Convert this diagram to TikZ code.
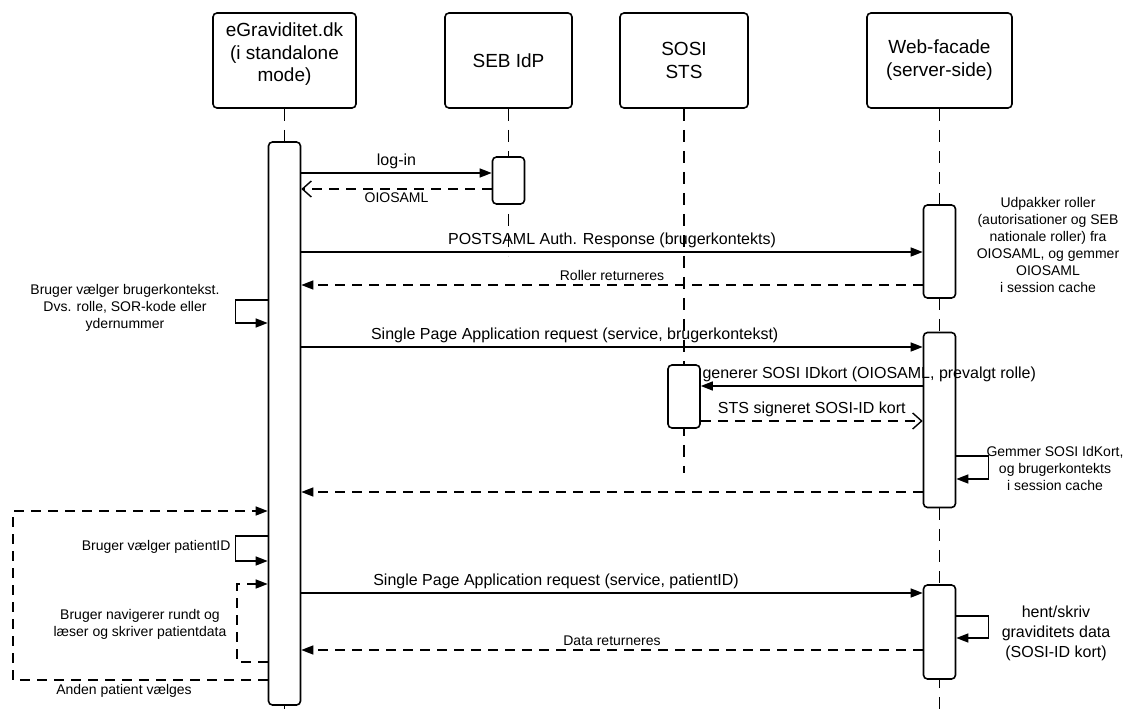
\documentclass[tikz,border=0pt]{standalone}
\usepackage{fontspec}
\setmainfont{Liberation Sans}
\usetikzlibrary{arrows.meta, positioning, calc}
\tikzstyle{actor} = [draw, line width=1.6pt, rounded corners=4pt, minimum height=95pt, align=center, font=\fontsize{19}{23}\selectfont]
\tikzstyle{head} = [align=center, font=\fontsize{19}{22.5}\selectfont]
\tikzstyle{bar} = [draw, line width=1.6pt, rounded corners=4pt, fill=white, minimum width=32pt, inner sep=0pt]
\tikzstyle{life} = [draw, line width=1.4pt, dash pattern=on 12pt off 9pt]
\tikzstyle{line} = [draw, line width=1.4pt, -{Triangle[length=12pt,width=9pt]}]
\tikzstyle{back} = [line, dash pattern=on 10pt off 7pt]
\tikzstyle{reply} = [draw, line width=1.4pt, dash pattern=on 10pt off 7pt, -{Straight Barb[length=9pt,width=16pt]}]
\tikzstyle{txt} = [font=\fontsize{16}{20}\selectfont, align=center]
\tikzstyle{small} = [font=\fontsize{14}{17}\selectfont, align=center]

\begin{document}
\begin{tikzpicture}[x=1pt, y=-1pt]
\useasboundingbox (0,0) rectangle (1129,711);

% Actors
\node[actor, minimum width=143pt, label={[head, yshift=6pt]center:{eGraviditet.dk\\(i standalone\\mode)}}] (eg) at (284.5,60.5) {};
\node[actor, minimum width=127pt] (seb) at (508.5,60.5) {SEB IdP};
\node[actor, minimum width=128pt] (sosi) at (684,60.5) {SOSI\\STS};
\node[actor, minimum width=145pt] (web) at (939.5,60.5) {Web-facade\\(server-side)};

% Lifelines
\draw[life] (eg.south) -- ++(0,603);
\draw[life] (seb.south) -- ++(0,147);
\draw[life] (sosi.south) -- ++(0,364);
\draw[life] (web.south) -- ++(0,603);

% Activation bars
\node[bar, minimum height=563pt] (egbar) at (eg.south |- 0,423.5) {};
\node[bar, minimum height=47pt] (sebbar) at (seb.south |- 0,180.5) {};
\node[bar, minimum height=63pt] (stsbar) at (sosi.south |- 0,396.5) {};
\node[bar, minimum height=93pt] (webA) at (web.south |- 0,251.5) {};
\node[bar, minimum height=175pt] (webB) at (web.south |- 0,420) {};
\node[bar, minimum height=94pt] (webC) at (web.south |- 0,632) {};

% Login
\draw[line] (egbar.east |- 0,173) -- (sebbar.west |- 0,173) node[midway, above, txt] {log-in};
\draw[reply] (sebbar.west |- 0,189) -- (egbar.east |- 0,189) node[midway, below, small] {OIOSAML};
\draw[line] (egbar.east |- 0,252) -- (webA.west |- 0,252) node[midway, above, txt] {POSTSAML Auth. Response (brugerkontekts)};
\draw[back] (webA.west |- 0,285) -- (egbar.east |- 0,285) node[midway, above, small] {Roller returneres};
\node[small] (udpak) at (1048,245) {Udpakker roller\\(autorisationer og SEB\\nationale roller) fra\\OIOSAML, og gemmer\\OIOSAML\\i session cache};

% User context
\draw[line] (egbar.west |- 0,300) -- ++(-32,0) -- ++(0,23) -- (egbar.west |- 0,323);
\node[small] (ctx) at (125,308) {Bruger vælger brugerkontekst.\\Dvs. rolle, SOR-kode eller\\ydernummer};

% SOSI IDkort
\draw[line] (egbar.east |- 0,347) -- (webB.west |- 0,347) node[pos=0.44, above, txt] {Single Page Application request (service, brugerkontekst)};
\draw[line] (webB.west |- 0,386) -- (stsbar.east |- 0,386) node[pos=1, above right, txt, inner xsep=1pt] {generer SOSI IDkort (OIOSAML, prevalgt rolle)};
\draw[reply] (stsbar.east |- 0,421) -- (webB.west |- 0,421) node[midway, above, txt] {STS signeret SOSI-ID kort};
\draw[line] (webB.east |- 0,456) -- ++(32,0) -- ++(0,23) -- (webB.east |- 0,479);
\node[small] (idkort) at (1055,468) {Gemmer SOSI IdKort,\\og brugerkontekts\\i session cache};
\draw[back] (webB.west |- 0,492) -- (egbar.east |- 0,492);

% Patient loop
\draw[back] (egbar.west |- 0,680) -- (13,680) -- (13,511) -- (egbar.west |- 0,511);
\node[small, anchor=north] (anden) at (124,681) {Anden patient vælges};
\draw[line] (egbar.west |- 0,536) -- ++(-32,0) -- ++(0,25) -- (egbar.west |- 0,561);
\node[small, anchor=east] (pid) at (234,547) {Bruger vælger patientID};
\draw[back] (egbar.west |- 0,662) -- (237,662) -- (237,584) -- (egbar.west |- 0,584);
\node[small] (nav) at (140,624) {Bruger navigerer rundt og\\læser og skriver patientdata};

% Data
\draw[line] (egbar.east |- 0,593) -- (webC.west |- 0,593) node[pos=0.41, above, txt] {Single Page Application request (service, patientID)};
\draw[back] (webC.west |- 0,650) -- (egbar.east |- 0,650) node[midway, above, small] {Data returneres};
\draw[line] (webC.east |- 0,616) -- ++(32,0) -- ++(0,22) -- (webC.east |- 0,638);
\node[txt] (hent) at (1056,633) {hent/skriv\\graviditets data\\(SOSI-ID kort)};

\end{tikzpicture}
\end{document}
